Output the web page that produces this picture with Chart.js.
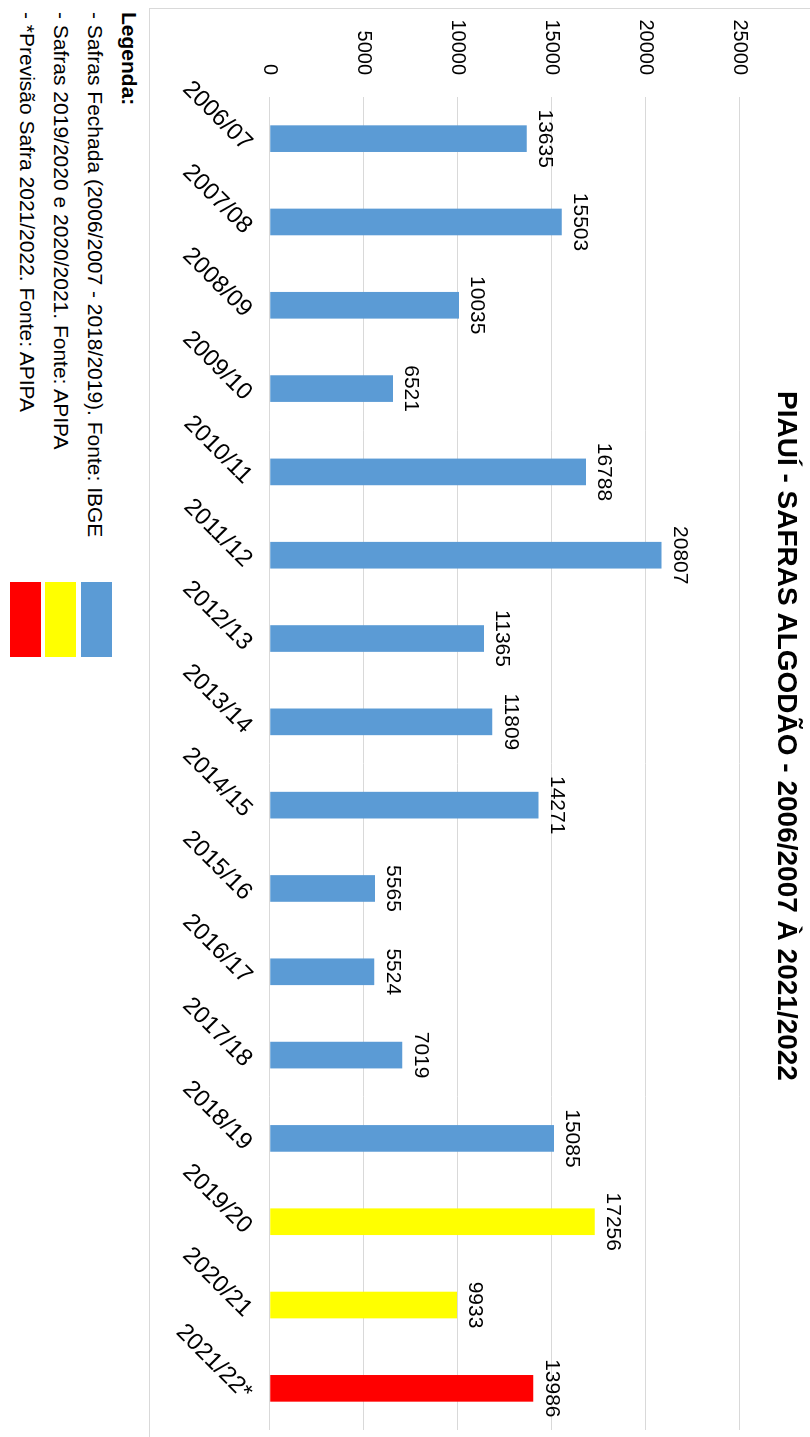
<!DOCTYPE html>
<html>
<head>
<meta charset="utf-8">
<script src="https://cdn.jsdelivr.net/npm/chart.js@4.4.0/dist/chart.umd.min.js"></script>
<style>
  html, body { margin: 0; padding: 0; background: #fff; overflow: hidden; }
  #rotated {
    position: absolute; left: 0; top: 0;
    width: 1437px; height: 810px;
    transform-origin: 0 0;
    transform: translate(810px, 0) rotate(90deg);
    font-family: "Liberation Sans", Arial, sans-serif;
    color: #000;
  }
  #box {
    position: absolute; left: 8px; top: -10px; width: 1440px; height: 671px;
    box-sizing: border-box;
    border-left: 1px solid #d9d9d9; border-bottom: 1px solid #d9d9d9;
  }
  #titulo {
    position: absolute; left: 0; top: 6px; width: 1472px;
    text-align: center; font-size: 28px; font-weight: bold; line-height: 34px;
  }
  #barChart { position: absolute; left: 0; top: 0; }
  #legenda {
    position: absolute; left: 12px; top: 664px;
    font-size: 21px; line-height: 34px; white-space: nowrap;
  }
  .swatch { position: absolute; left: 582px; width: 75px; height: 31px; }
</style>
</head>
<body>
<div id="rotated">
  <div id="box"></div>
  <canvas id="barChart" width="1437" height="660"></canvas>
  <div id="titulo">PIAUÍ - SAFRAS ALGODÃO - 2006/2007 À 2021/2022</div>
  <div id="legenda">
    <div><b>Legenda:</b></div>
    <div>- Safras Fechada (2006/2007 - 2018/2019). Fonte: IBGE</div>
    <div>- Safras 2019/2020 e 2020/2021. Fonte: APIPA</div>
    <div>- *Previsão Safra 2021/2022. Fonte: APIPA</div>
  </div>
  <div class="swatch" style="top:698px;background:#5B9BD5"></div>
  <div class="swatch" style="top:734px;background:#FFFF00"></div>
  <div class="swatch" style="top:769px;background:#FF0000"></div>
</div>
<script>
// ------------SAFRAS ALGODAO PIAUI------------------ //

var safras = ["2006/07", "2007/08", "2008/09", "2009/10", "2010/11", "2011/12", "2012/13", "2013/14",
              "2014/15", "2015/16", "2016/17", "2017/18", "2018/19", "2019/20", "2020/21", "2021/22*"];
var producao = [13635, 15503, 10035, 6521, 16788, 20807, 11365, 11809,
                14271, 5565, 5524, 7019, 15085, 17256, 9933, 13986];
var tipoSafra = ["ibge", "ibge", "ibge", "ibge", "ibge", "ibge", "ibge", "ibge",
                 "ibge", "ibge", "ibge", "ibge", "ibge", "apipa", "apipa", "previsao"];
var yTicks = [0, 5000, 10000, 15000, 20000, 25000];

var corTipo = { ibge: '#5B9BD5', apipa: '#FFFF00', previsao: '#FF0000' };
var barColors = tipoSafra.map(function (t) { return corTipo[t]; });

Chart.defaults.font.family = '"Liberation Sans", Arial, sans-serif';
Chart.defaults.color = '#000';

// numbers above each bar
const valueLabels = {
    id: 'valueLabels',
    afterDatasetsDraw(chart) {
        const ctx = chart.ctx;
        ctx.save();
        ctx.font = '21px "Liberation Sans", Arial, sans-serif';
        ctx.fillStyle = '#000';
        ctx.textAlign = 'center';
        ctx.textBaseline = 'bottom';
        chart.getDatasetMeta(0).data.forEach(function (bar, i) {
            ctx.fillText(producao[i], bar.x, bar.y - 8);
        });
        ctx.restore();
    }
};

new Chart("barChart", {
    type: "bar",
    data: {
        labels: safras,
        datasets: [{
            backgroundColor: barColors,
            borderWidth: 0,
            barThickness: 26,
            data: producao
        }]
    },
    options: {
        responsive: false,
        animation: false,
        layout: { padding: { left: 19, right: 7, top: 70, bottom: 0 } },
        plugins: {
            legend: { display: false },
            tooltip: { enabled: false },
            title: { display: false }
        },
        scales: {
            x: {
                grid: { display: false },
                border: { display: false },
                ticks: { font: { size: 24 }, minRotation: 45, maxRotation: 45, padding: 4, labelOffset: 8 },
                afterFit: function (scale) {
                    scale.height = 120;
                    scale.paddingLeft = 0;
                    scale.paddingRight = 0;
                }
            },
            y: {
                min: 0,
                max: 25000,
                afterBuildTicks: function (scale) {
                    scale.ticks = yTicks.map(function (v) { return { value: v }; });
                },
                grid: { color: '#d9d9d9', drawTicks: false },
                border: { display: false },
                ticks: {
                    font: { size: 20 },
                    padding: 22,
                    callback: function (v) { return String(v); }
                },
                afterFit: function (scale) {
                    scale.width = 78;
                    scale.paddingTop = 0;
                    scale.paddingBottom = 0;
                }
            }
        }
    },
    plugins: [valueLabels]
});
</script>
</body>
</html>
